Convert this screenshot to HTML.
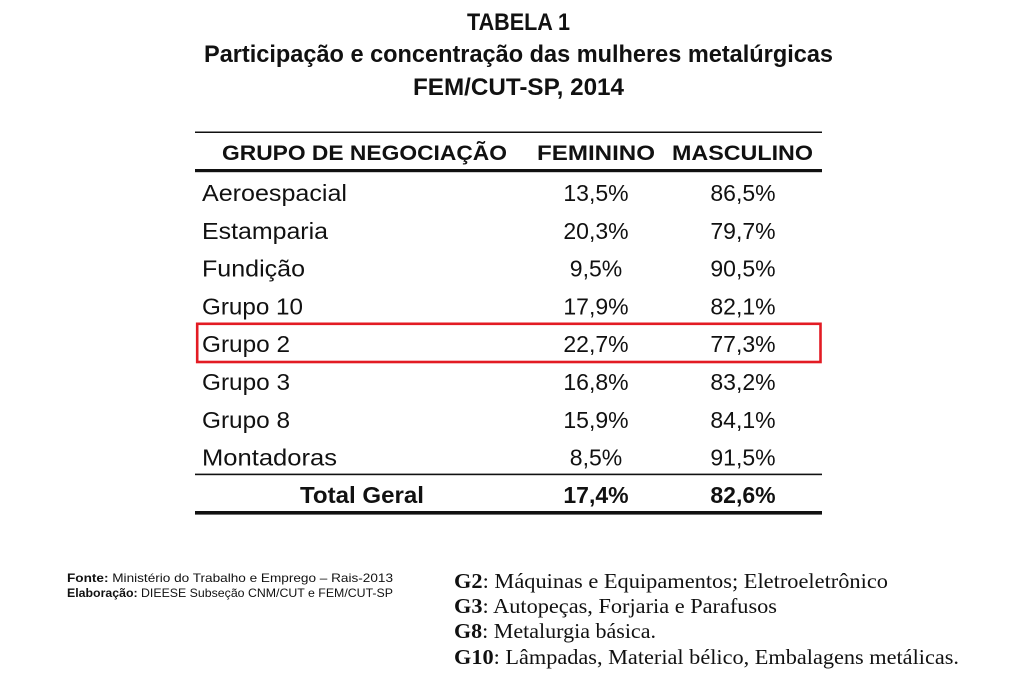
<!DOCTYPE html>
<html>
<head>
<meta charset="utf-8">
<style>
  html, body { margin: 0; padding: 0; background: #ffffff; }
  svg { display: block; }
  .t { font-family: "Liberation Sans", Arial, sans-serif; fill: #111; }
  .s { font-family: "Liberation Serif", "Times New Roman", serif; fill: #111; }
</style>
</head>
<body>
<svg width="1024" height="682" viewBox="0 0 1024 682" xmlns="http://www.w3.org/2000/svg">
  <rect x="0" y="0" width="1024" height="682" fill="#ffffff"/>

  <!-- Title -->
  <text class="t" x="467" y="30" font-size="24" font-weight="bold" textLength="103" lengthAdjust="spacingAndGlyphs">TABELA 1</text>
  <text class="t" x="204" y="62" font-size="24" font-weight="bold" textLength="629" lengthAdjust="spacingAndGlyphs">Participação e concentração das mulheres metalúrgicas</text>
  <text class="t" x="413" y="95" font-size="24" font-weight="bold" textLength="211" lengthAdjust="spacingAndGlyphs">FEM/CUT-SP, 2014</text>

  <!-- Table rules -->
  <rect x="195" y="131.5" width="627" height="1.5" fill="#111"/>
  <rect x="195" y="169" width="627" height="3.2" fill="#111"/>
  <rect x="195" y="473.6" width="627" height="1.6" fill="#111"/>
  <rect x="195" y="511" width="627" height="3.6" fill="#111"/>

  <!-- Header -->
  <text class="t" x="222" y="160" font-size="21" font-weight="bold" textLength="285" lengthAdjust="spacingAndGlyphs">GRUPO DE NEGOCIAÇÃO</text>
  <text class="t" x="537" y="160" font-size="21" font-weight="bold" textLength="118" lengthAdjust="spacingAndGlyphs">FEMININO</text>
  <text class="t" x="672" y="160" font-size="21" font-weight="bold" textLength="141" lengthAdjust="spacingAndGlyphs">MASCULINO</text>

  <!-- Rows -->
  <g font-size="23">
    <text class="t" x="202" y="201" textLength="145" lengthAdjust="spacingAndGlyphs">Aeroespacial</text>
    <text class="t" x="596" y="201" text-anchor="middle">13,5%</text>
    <text class="t" x="743" y="201" text-anchor="middle">86,5%</text>

    <text class="t" x="202" y="238.8" textLength="126" lengthAdjust="spacingAndGlyphs">Estamparia</text>
    <text class="t" x="596" y="238.8" text-anchor="middle">20,3%</text>
    <text class="t" x="743" y="238.8" text-anchor="middle">79,7%</text>

    <text class="t" x="202" y="276.6" textLength="103" lengthAdjust="spacingAndGlyphs">Fundição</text>
    <text class="t" x="596" y="276.6" text-anchor="middle">9,5%</text>
    <text class="t" x="743" y="276.6" text-anchor="middle">90,5%</text>

    <text class="t" x="202" y="314.4" textLength="101" lengthAdjust="spacingAndGlyphs">Grupo 10</text>
    <text class="t" x="596" y="314.4" text-anchor="middle">17,9%</text>
    <text class="t" x="743" y="314.4" text-anchor="middle">82,1%</text>

    <text class="t" x="202" y="352.2" textLength="88" lengthAdjust="spacingAndGlyphs">Grupo 2</text>
    <text class="t" x="596" y="352.2" text-anchor="middle">22,7%</text>
    <text class="t" x="743" y="352.2" text-anchor="middle">77,3%</text>

    <text class="t" x="202" y="390" textLength="88" lengthAdjust="spacingAndGlyphs">Grupo 3</text>
    <text class="t" x="596" y="390" text-anchor="middle">16,8%</text>
    <text class="t" x="743" y="390" text-anchor="middle">83,2%</text>

    <text class="t" x="202" y="427.8" textLength="88" lengthAdjust="spacingAndGlyphs">Grupo 8</text>
    <text class="t" x="596" y="427.8" text-anchor="middle">15,9%</text>
    <text class="t" x="743" y="427.8" text-anchor="middle">84,1%</text>

    <text class="t" x="202" y="465.6" textLength="135" lengthAdjust="spacingAndGlyphs">Montadoras</text>
    <text class="t" x="596" y="465.6" text-anchor="middle">8,5%</text>
    <text class="t" x="743" y="465.6" text-anchor="middle">91,5%</text>

    <text class="t" x="300" y="503" font-weight="bold" textLength="124" lengthAdjust="spacingAndGlyphs">Total Geral</text>
    <text class="t" x="596" y="503" font-weight="bold" text-anchor="middle">17,4%</text>
    <text class="t" x="743" y="503" font-weight="bold" text-anchor="middle">82,6%</text>
  </g>

  <!-- Red highlight box -->
  <rect x="197.2" y="323.8" width="623.3" height="38.2" fill="none" stroke="#e31b23" stroke-width="2.6"/>

  <!-- Source notes -->
  <text class="t" x="67" y="582" font-size="12" textLength="326" lengthAdjust="spacingAndGlyphs"><tspan font-weight="bold">Fonte:</tspan> Ministério do Trabalho e Emprego – Rais-2013</text>
  <text class="t" x="67" y="597" font-size="12" textLength="326" lengthAdjust="spacingAndGlyphs"><tspan font-weight="bold">Elaboração:</tspan> DIEESE Subseção CNM/CUT e FEM/CUT-SP</text>

  <!-- Group legend -->
  <g font-size="21">
    <text class="s" x="454" y="588" textLength="434" lengthAdjust="spacingAndGlyphs"><tspan font-weight="bold">G2</tspan>: Máquinas e Equipamentos; Eletroeletrônico</text>
    <text class="s" x="454" y="613" textLength="323" lengthAdjust="spacingAndGlyphs"><tspan font-weight="bold">G3</tspan>: Autopeças, Forjaria e Parafusos</text>
    <text class="s" x="454" y="638" textLength="202" lengthAdjust="spacingAndGlyphs"><tspan font-weight="bold">G8</tspan>: Metalurgia básica.</text>
    <text class="s" x="454" y="664" textLength="505" lengthAdjust="spacingAndGlyphs"><tspan font-weight="bold">G10</tspan>: Lâmpadas, Material bélico, Embalagens metálicas.</text>
  </g>
</svg>
</body>
</html>
